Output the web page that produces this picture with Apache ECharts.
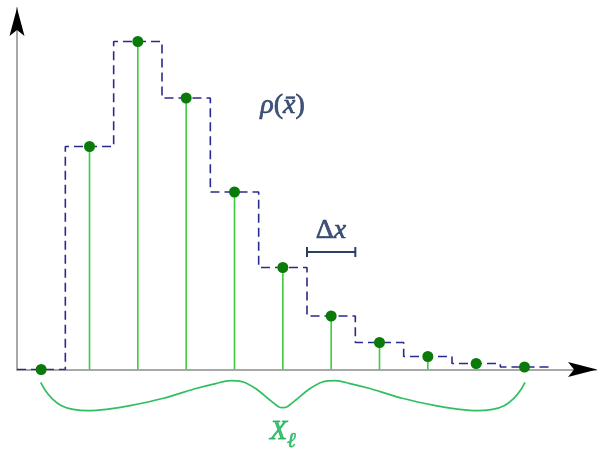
<!DOCTYPE html>
<html>
<head>
<meta charset="utf-8">
<script src="https://cdn.jsdelivr.net/npm/echarts@6/dist/echarts.min.js"></script>
<style>
html, body { margin: 0; padding: 0; background: #fff; }
#main { width: 597px; height: 449px; }
</style>
</head>
<body>
<div id="main"></div>
<script>
// sample positions (bin index) and density values
var xs = [0, 1, 2, 3, 4, 5, 6, 7, 8, 9, 10];
var rho = [0, 2.23, 3.28, 2.715, 1.775, 1.02, 0.535, 0.27, 0.13, 0.06, 0.025];

// brace under the axis (x in bins, y below zero)
var braceX = [-0.01, 0.08, 0.22, 0.42, 0.66, 0.97, 1.35, 1.84, 2.53, 3.22, 3.63, 3.91, 4.18, 4.46, 4.73, 4.91, 5.0,
              5.09, 5.27, 5.54, 5.82, 6.09, 6.37, 6.78, 7.47, 8.16, 8.65, 9.03, 9.34, 9.58, 9.78, 9.92, 10.01];
var braceY = [-0.128, -0.205, -0.288, -0.362, -0.398, -0.412, -0.398, -0.362, -0.288, -0.188, -0.138, -0.112, -0.125, -0.198, -0.305, -0.372, -0.382,
              -0.372, -0.305, -0.198, -0.125, -0.112, -0.138, -0.188, -0.288, -0.362, -0.398, -0.412, -0.398, -0.362, -0.288, -0.205, -0.128];

// delta x bracket
var dxFrom = 5.5, dxTo = 6.5, dxLevel = 1.175, dxCap = 0.05;

var xMin = -0.5, xMax = 11.5, yMax = 3.615;

var myChart = echarts.init(document.getElementById('main'));

var stepData = [[xs[0] - 0.5, rho[0]]];
xs.forEach(function (x, i) { stepData.push([x, rho[i]]); });
stepData.push([xs[xs.length - 1] + 0.5, rho[rho.length - 1]]);

var points = xs.map(function (x, i) { return [x, rho[i]]; });
var stems = points.filter(function (d) { return d[1] > 0; });
var brace = braceX.map(function (x, i) { return [x, braceY[i]]; });

var navy = '#142a5a';
var green = '#15b055';
var mathFont = 'Liberation Serif';

option = {
    animation: false,
    grid: { left: 17, right: 0, top: 8, bottom: 79.5 },
    xAxis: {
        type: 'value',
        min: xMin,
        max: xMax,
        axisLine: { show: true, onZero: false, lineStyle: { color: '#a8a8a8', width: 2 } },
        axisTick: { show: false },
        axisLabel: { show: false },
        splitLine: { show: false }
    },
    yAxis: {
        type: 'value',
        min: 0,
        max: yMax,
        axisLine: { show: true, onZero: false, lineStyle: { color: '#a8a8a8', width: 2 } },
        axisTick: { show: false },
        axisLabel: { show: false },
        splitLine: { show: false }
    },
    series: [
        {
            name: 'stems',
            type: 'bar',
            data: stems,
            barWidth: 1.6,
            itemStyle: { color: '#3fc93f' },
            z: 2
        },
        {
            name: 'rho',
            type: 'line',
            step: 'middle',
            data: stepData,
            showSymbol: false,
            lineStyle: { color: '#2a2a8c', width: 1.6, type: [9, 5] },
            z: 3
        },
        {
            name: 'samples',
            type: 'scatter',
            data: points,
            symbolSize: 11,
            itemStyle: { color: '#0a7a0a', opacity: 1 },
            z: 4
        },
        {
            name: 'brace',
            type: 'line',
            data: brace,
            smooth: 0.2,
            clip: false,
            showSymbol: false,
            lineStyle: { color: '#2fbf5f', width: 1.7 },
            z: 2
        },
        {
            name: 'dx',
            type: 'line',
            data: [[dxFrom, dxLevel - dxCap], [dxFrom, dxLevel + dxCap], [dxFrom, dxLevel],
                   [dxTo, dxLevel], [dxTo, dxLevel + dxCap], [dxTo, dxLevel - dxCap]],
            showSymbol: false,
            lineStyle: { color: '#2c3e66', width: 2 },
            z: 2
        },
        {
            name: 'notes',
            type: 'scatter',
            symbolSize: 0,
            clip: false,
            data: [
                { value: [4.995, 2.64], label: { formatter: '{i|ρ}{u|(}{i|x̄}{u|)}' } },
                { value: [5.995, 1.39], label: { formatter: '{u|Δ}{i|x}' } },
                { value: [5.0, -0.62], label: { formatter: '{X|X}{s|ℓ}' } }
            ],
            label: {
                show: true,
                position: 'inside',
                color: navy,
                rich: {
                    i: { fontFamily: mathFont, fontStyle: 'italic', fontSize: 28, color: navy, textBorderColor: navy, textBorderWidth: 0.7 },
                    u: { fontFamily: mathFont, fontSize: 28, color: navy, textBorderColor: navy, textBorderWidth: 0.7 },
                    X: { fontFamily: mathFont, fontStyle: 'italic', fontSize: 28, color: green, textBorderColor: green, textBorderWidth: 0.8, lineHeight: 28, verticalAlign: 'top' },
                    s: { fontFamily: mathFont, fontStyle: 'italic', fontSize: 21, color: green, textBorderColor: green, textBorderWidth: 0.6, lineHeight: 21, padding: [13, 0, 0, 0], verticalAlign: 'top' }
                }
            },
            z: 5
        }
    ]
};

myChart.setOption(option);

// black arrow heads on the axes
var xEnd = myChart.convertToPixel({ gridIndex: 0 }, [xMax, 0]);
var yEnd = myChart.convertToPixel({ gridIndex: 0 }, [xMin, yMax]);
myChart.setOption({
    graphic: [
        {
            type: 'polygon',
            shape: { points: [[xEnd[0], xEnd[1]], [xEnd[0] - 29, xEnd[1] - 7.5], [xEnd[0] - 23, xEnd[1]], [xEnd[0] - 29, xEnd[1] + 7.5]] },
            style: { fill: '#000' },
            z: 10
        },
        {
            type: 'polygon',
            shape: { points: [[yEnd[0], yEnd[1]], [yEnd[0] - 7.5, yEnd[1] + 28], [yEnd[0], yEnd[1] + 22], [yEnd[0] + 7.5, yEnd[1] + 28]] },
            style: { fill: '#000' },
            z: 10
        }
    ]
});
</script>
</body>
</html>
